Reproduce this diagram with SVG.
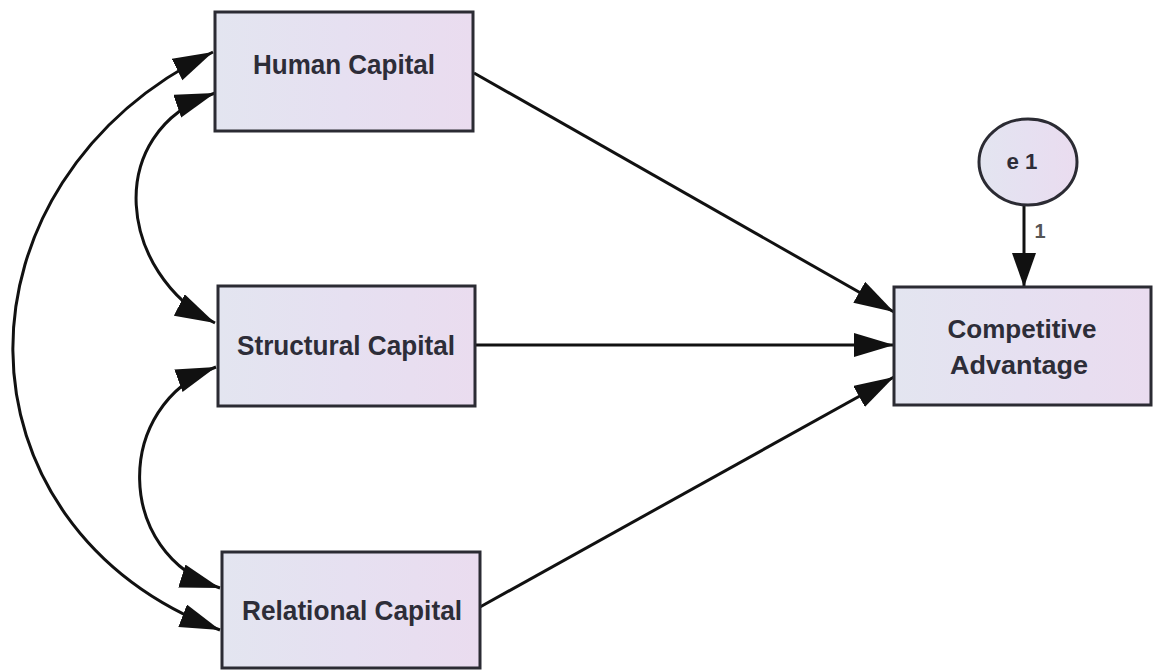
<svg xmlns="http://www.w3.org/2000/svg" width="1153" height="670" viewBox="0 0 1153 670">
<defs>
<linearGradient id="fill" x1="0" y1="0" x2="1" y2="0">
<stop offset="0" stop-color="#e3e5f0"/>
<stop offset="0.5" stop-color="#e6e0f1"/>
<stop offset="1" stop-color="#eadcef"/>
</linearGradient>
<marker id="ah" markerUnits="userSpaceOnUse" markerWidth="42" markerHeight="26" refX="40" refY="12" orient="auto-start-reverse" viewBox="0 0 42 26">
<path d="M0,0 L40,12 L0,24 z" fill="#111"/>
</marker>
<marker id="ahs" markerUnits="userSpaceOnUse" markerWidth="36" markerHeight="26" refX="34" refY="12" orient="auto" viewBox="0 0 36 26">
<path d="M0,0 L34,12 L0,24 z" fill="#111"/>
</marker>
<style>
.box{fill:url(#fill);stroke:#2b2b33;stroke-width:3}
.lbl{font-family:"Liberation Sans",Arial,sans-serif;font-weight:bold;fill:#2d2d38;text-anchor:middle}
.edge{fill:none;stroke:#111;stroke-width:3}
</style>
</defs>
<rect width="1153" height="670" fill="#fff"/>
<g id="connectors">
<line class="edge" x1="474" y1="73" x2="894" y2="312" marker-end="url(#ah)"/>
<line class="edge" x1="476" y1="345" x2="894" y2="345" marker-end="url(#ah)"/>
<line class="edge" x1="480" y1="607" x2="894" y2="377" marker-end="url(#ah)"/>
<line class="edge" x1="1024" y1="205" x2="1024" y2="287" marker-end="url(#ahs)"/>
<path class="edge" d="M215,93 C100,133 120,275 215,323" marker-start="url(#ah)" marker-end="url(#ah)"/>
<path class="edge" d="M216,367 C112,405 115,555 220,588" marker-start="url(#ah)" marker-end="url(#ah)"/>
<path class="edge" d="M213,52 C-55,183 -55,525 220,630" marker-start="url(#ah)" marker-end="url(#ah)"/>
<text x="1040" y="238" style="font-family:'Liberation Sans',Arial,sans-serif;font-weight:bold;font-size:20px;fill:#555;text-anchor:middle">1</text>
</g>
<g id="human-capital">
<rect class="box" x="215" y="12" width="258" height="119"/>
<text class="lbl" x="344" y="74" font-size="28" textLength="182" lengthAdjust="spacingAndGlyphs">Human Capital</text>
</g>
<g id="structural-capital">
<rect class="box" x="218" y="286" width="257" height="120"/>
<text class="lbl" x="346" y="355" font-size="28" textLength="218" lengthAdjust="spacingAndGlyphs">Structural Capital</text>
</g>
<g id="relational-capital">
<rect class="box" x="222" y="552" width="258" height="116"/>
<text class="lbl" x="352" y="620" font-size="28" textLength="220" lengthAdjust="spacingAndGlyphs">Relational Capital</text>
</g>
<g id="competitive-advantage">
<rect class="box" x="894" y="287" width="257" height="118"/>
<text class="lbl" x="1022" y="338" font-size="25" textLength="149" lengthAdjust="spacingAndGlyphs">Competitive</text>
<text class="lbl" x="1019" y="374" font-size="25" textLength="138" lengthAdjust="spacingAndGlyphs">Advantage</text>
</g>
<g id="e1">
<ellipse class="box" cx="1028" cy="162" rx="49" ry="43"/>
<text class="lbl" x="1022" y="169" font-size="22" textLength="31" lengthAdjust="spacingAndGlyphs">e 1</text>
</g>
</svg>
